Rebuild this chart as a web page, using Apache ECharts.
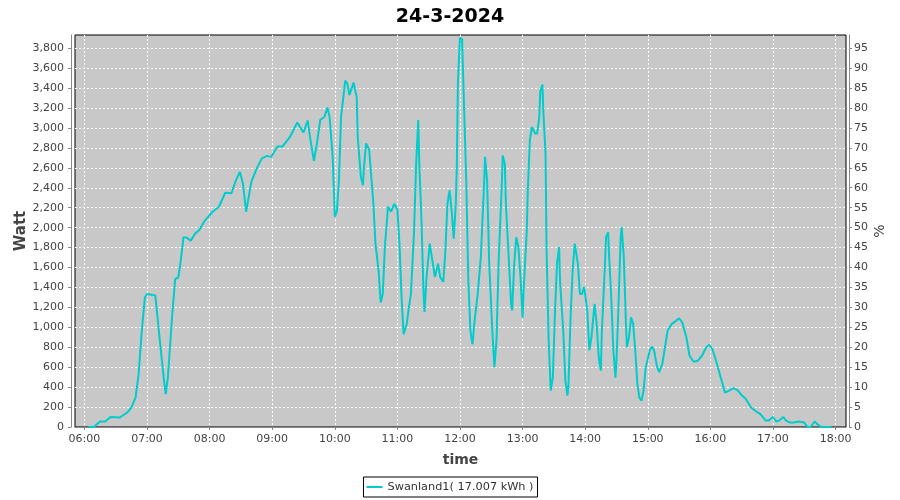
<!DOCTYPE html>
<html>
<head>
<meta charset="utf-8">
<script src="https://cdn.jsdelivr.net/npm/echarts@6/dist/echarts.min.js"></script>
<style>
  html, body { margin: 0; padding: 0; background: #fff; }
  #chart { width: 900px; height: 500px; }
</style>
</head>
<body>
<div id="chart"></div>
<script>
const titleText = '24-3-2024';
const seriesName = 'Swanland1( 17.007 kWh )';
const dateParts = [2024, 2, 24];

const times = [
  '06:04','06:09','06:15','06:20','06:25','06:34','06:41','06:45','06:49','06:52',
  '06:55','06:58','07:00','07:08','07:09','07:12','07:16','07:18','07:20','07:24',
  '07:27','07:30','07:32','07:35','07:38','07:42','07:46','07:50','07:55','08:03',
  '08:09','08:15','08:21','08:25','08:29','08:32','08:35','08:36','08:40','08:45',
  '08:50','08:55','08:59','09:05','09:10','09:17','09:24','09:30','09:34','09:37',
  '09:40','09:43','09:46','09:50','09:53','09:55','09:58','09:59','10:00','10:02',
  '10:04','10:06','10:10','10:12','10:14','10:18','10:21','10:22','10:25','10:27',
  '10:28','10:30','10:33','10:35','10:37','10:39','10:42','10:44','10:46','10:48',
  '10:51','10:54','10:57','11:00','11:02','11:04','11:06','11:09','11:11','11:13',
  '11:16','11:18','11:20','11:21','11:23','11:25','11:26','11:28','11:31','11:34',
  '11:36','11:39','11:41','11:44','11:46','11:48','11:50','11:52','11:54','11:56',
  '11:57','11:58','12:00','12:02','12:04','12:06','12:08','12:10','12:12','12:14',
  '12:17','12:20','12:23','12:24','12:26','12:28','12:31','12:33','12:35','12:37',
  '12:40','12:41','12:43','12:44','12:47','12:49','12:50','12:52','12:54','12:56',
  '12:58','13:00','13:01','13:04','13:05','13:07','13:09','13:12','13:14','13:16',
  '13:17','13:19','13:20','13:22','13:23','13:25','13:27','13:29','13:31','13:33',
  '13:35','13:36','13:39','13:41','13:43','13:44','13:46','13:48','13:50','13:51',
  '13:53','13:55','13:57','13:59','14:02','14:04','14:06','14:09','14:11','14:13',
  '14:15','14:16','14:19','14:20','14:22','14:23','14:25','14:27','14:29','14:30',
  '14:32','14:34','14:35','14:37','14:39','14:40','14:42','14:44','14:46','14:48',
  '14:50','14:52','14:54','14:56','14:58','15:02','15:04','15:06','15:09','15:11',
  '15:14','15:16','15:19','15:23','15:27','15:30','15:33','15:37','15:40','15:44',
  '15:48','15:52','15:56','15:59','16:02','16:05','16:10','16:14','16:18','16:22',
  '16:26','16:30','16:34','16:39','16:44','16:48','16:53','16:56','17:00','17:03',
  '17:06','17:10','17:12','17:16','17:20','17:25','17:30','17:33','17:36','17:40',
  '17:43','17:46','17:56'
];

const watts = [
  0,0,55,55,100,95,145,195,295,530,
  965,1300,1335,1320,1300,900,495,330,495,1100,
  1485,1500,1640,1905,1900,1870,1940,1975,2065,2160,
  2210,2350,2345,2470,2560,2440,2160,2180,2460,2590,
  2695,2720,2710,2815,2815,2910,3055,2955,3075,2860,
  2670,2850,3080,3110,3205,3110,2710,2410,2110,2160,
  2475,3110,3475,3445,3330,3455,3310,2910,2510,2425,
  2610,2845,2780,2510,2240,1840,1570,1250,1335,1805,
  2210,2160,2240,2180,1840,1300,930,1035,1200,1335,
  1970,2640,3080,2640,2105,1370,1155,1505,1840,1640,
  1505,1640,1505,1455,1770,2240,2375,2175,1890,2240,
  2640,3450,3905,3890,3180,2475,1470,965,830,1065,
  1335,1705,2410,2710,2475,1640,965,600,870,1640,
  2410,2725,2640,2240,1640,1235,1170,1640,1905,1805,
  1505,1100,1370,1970,2375,2880,3010,2945,2945,3110,
  3365,3435,3145,2745,1770,870,365,495,1135,1640,
  1805,1440,965,465,315,430,1100,1570,1840,1855,
  1640,1335,1335,1405,1170,770,900,1235,1035,700,
  565,965,1640,1905,1955,1705,1300,770,495,665,
  1235,1905,2005,1705,1065,800,900,1100,1035,770,
  430,295,265,365,600,770,805,770,600,550,
  635,770,965,1035,1065,1090,1050,900,715,655,
  665,715,800,825,780,680,495,345,365,390,
  370,320,280,195,155,130,65,65,100,55,
  65,100,70,45,45,55,45,0,0,55,
  25,0,0
];

const wattTicksMax = 3933;   // top of left axis
const pctMax = 98.3;         // top of right axis
const axisStart = '05:51';
const axisEnd = '18:10';

function toDate(hm) {
  const [h, m] = hm.split(':').map(Number);
  return new Date(dateParts[0], dateParts[1], dateParts[2], h, m).getTime();
}
function pad(n) { return n < 10 ? '0' + n : '' + n; }

const seriesData = times.map((t, i) => [toDate(t), watts[i]]);

const FONT = 'DejaVu Sans';
const labelColor = '#444';
const axisGray = '#888';
const gridLine = { show: true, showMinLine: false, showMaxLine: false,
                   lineStyle: { color: '#ffffff', type: [2, 2], width: 1 } };

const chart = echarts.init(document.getElementById('chart'), null, { renderer: 'canvas' });
chart.setOption({
  animation: false,
  backgroundColor: '#ffffff',
  title: {
    text: titleText,
    left: 'center',
    top: 3,
    textStyle: { fontFamily: FONT, fontSize: 19, fontWeight: 'bold', color: '#000' }
  },
  legend: {
    data: [{ name: seriesName, icon: 'rect' }],
    left: 'center',
    top: 477,
    borderColor: '#000',
    borderWidth: 1,
    borderRadius: 0,
    padding: [3, 4, 3, 3],
    itemWidth: 16,
    itemHeight: 2,
    itemGap: 5,
    itemStyle: { color: '#00cccc', borderWidth: 0 },
    textStyle: { fontFamily: FONT, fontSize: 11.3, color: '#333', lineHeight: 14 }
  },
  grid: {
    left: 75, right: 54, top: 35, bottom: 73,
    show: true,
    backgroundColor: '#c8c8c8',
    borderColor: '#000',
    borderWidth: 1,
    containLabel: false
  },
  xAxis: {
    type: 'time',
    min: toDate(axisStart),
    max: toDate(axisEnd),
    minInterval: 3600 * 1000,
    maxInterval: 3600 * 1000,
    offset: 3,
    name: 'time',
    nameLocation: 'middle',
    nameGap: 23,
    nameMoveOverlap: false,
    nameTextStyle: { fontFamily: FONT, fontSize: 14, fontWeight: 'bold', color: labelColor },
    axisLine: { show: true, lineStyle: { color: axisGray, width: 1 } },
    axisTick: { show: true, length: 3, lineStyle: { color: axisGray } },
    axisLabel: {
      fontFamily: FONT, fontSize: 11, color: labelColor, margin: 4,
      showMinLabel: false, showMaxLabel: false, hideOverlap: false,
      formatter: function (v) { const d = new Date(v); return pad(d.getHours()) + ':' + pad(d.getMinutes()); }
    },
    splitLine: gridLine
  },
  yAxis: [
    {
      type: 'value',
      min: 0,
      max: wattTicksMax,
      interval: 200,
      position: 'left',
      offset: 4,
      name: 'Watt',
      nameLocation: 'middle',
      nameGap: 42,
      nameMoveOverlap: false,
      nameTextStyle: { fontFamily: FONT, fontSize: 15, fontWeight: 'bold', color: labelColor },
      axisLine: { show: true, lineStyle: { color: axisGray, width: 1 } },
      axisTick: { show: true, length: 3, lineStyle: { color: axisGray } },
      axisLabel: {
        fontFamily: FONT, fontSize: 11, color: labelColor, margin: 7,
        showMaxLabel: false,
        formatter: function (v) { return Math.round(v).toLocaleString('en-US'); }
      },
      splitLine: gridLine
    },
    {
      type: 'value',
      min: 0,
      max: pctMax,
      interval: 5,
      position: 'right',
      offset: 3,
      name: '%',
      nameLocation: 'middle',
      nameGap: 24,
      nameMoveOverlap: false,
      nameTextStyle: { fontFamily: FONT, fontSize: 14, color: labelColor },
      axisLine: { show: true, lineStyle: { color: axisGray, width: 1 } },
      axisTick: { show: true, length: 3, lineStyle: { color: axisGray } },
      axisLabel: {
        fontFamily: FONT, fontSize: 11, color: labelColor, margin: 5,
        showMaxLabel: false
      },
      splitLine: { show: false }
    }
  ],
  series: [
    {
      name: seriesName,
      type: 'line',
      yAxisIndex: 0,
      data: seriesData,
      symbol: 'none',
      showSymbol: false,
      smooth: false,
      lineStyle: { color: '#00cccc', width: 2 },
      itemStyle: { color: '#00cccc' }
    }
  ]
});
</script>
</body>
</html>
